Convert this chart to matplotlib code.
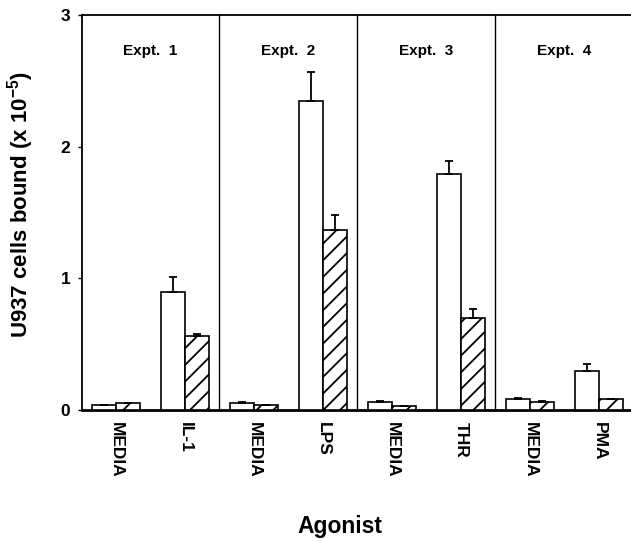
import matplotlib
matplotlib.use("Agg")
import matplotlib.pyplot as plt
import numpy as np

plt.rcParams['font.family'] = ['Liberation Sans', 'DejaVu Sans']
plt.rcParams['font.weight'] = 'bold'
plt.rcParams['mathtext.fontset'] = 'custom'
plt.rcParams['mathtext.rm'] = 'Liberation Sans:bold'
plt.rcParams['mathtext.bf'] = 'Liberation Sans:bold'
plt.rcParams['hatch.linewidth'] = 1.3

categories = ['MEDIA', 'IL-1', 'MEDIA', 'LPS', 'MEDIA', 'THR', 'MEDIA', 'PMA']
experiments = ['Expt.  1', 'Expt.  2', 'Expt.  3', 'Expt.  4']
open_vals = [0.035, 0.90, 0.05, 2.35, 0.06, 1.79, 0.08, 0.30]
open_err = [0.005, 0.11, 0.01, 0.22, 0.01, 0.10, 0.01, 0.05]
hatch_vals = [0.05, 0.56, 0.04, 1.37, 0.03, 0.70, 0.06, 0.08]
hatch_err = [0.0, 0.02, 0.0, 0.11, 0.0, 0.07, 0.01, 0.0]
yticks = [0, 1, 2, 3]

fig = plt.figure(figsize=(6.31, 5.41), dpi=100)
ax = fig.add_axes([81.5/631, 131/541, 552/631, 395/541])

x = np.arange(len(categories)) + 0.5
w = 0.345
ax.bar(x - w/2, open_vals, width=w, color='white', edgecolor='black', linewidth=1.2,
       yerr=[np.zeros(len(open_err)), open_err], capsize=3,
       error_kw=dict(elinewidth=1.3, capthick=1.3, ecolor='black'), zorder=3)
ax.bar(x + w/2, hatch_vals, width=w, color='white', edgecolor='black', linewidth=1.2,
       hatch='//', yerr=[np.zeros(len(hatch_err)), hatch_err], capsize=3,
       error_kw=dict(elinewidth=1.3, capthick=1.3, ecolor='black'), zorder=3)

for d in [2, 4, 6]:
    ax.axvline(d, color='black', linewidth=1.0, zorder=2)

for i, lab in enumerate(experiments):
    ax.text(2*i + 1, 2.73, lab, ha='center', va='center', fontsize=11, fontweight='bold')

ax.set_xlim(0, 8)
ax.set_ylim(0, 3)
ax.set_yticks(yticks)
ax.set_yticklabels([str(t) for t in yticks], fontsize=12.5, fontweight='bold')
ax.tick_params(axis='y', length=3, width=1, direction='out', pad=5)
ax.set_xticks(x)
ax.set_xticklabels(categories, rotation=-90, fontsize=12.5, fontweight='bold', va='top', ha='center')
ax.tick_params(axis='x', length=0, pad=9)

ax.spines['right'].set_visible(False)
ax.spines['left'].set_linewidth(1.3)
ax.spines['top'].set_linewidth(1.3)
ax.spines['bottom'].set_linewidth(2.0)

ax.set_ylabel(r'U937 cells bound (x 10$^{\mathbf{-5}}$)', fontsize=16, fontweight='bold')
ax.yaxis.set_label_coords(-0.083, 0.52)
fig.text(340/631, 1 - 527/541, 'Agonist', ha='center', va='center', fontsize=16.5, fontweight='bold')

fig.savefig('out.png', dpi=100)
